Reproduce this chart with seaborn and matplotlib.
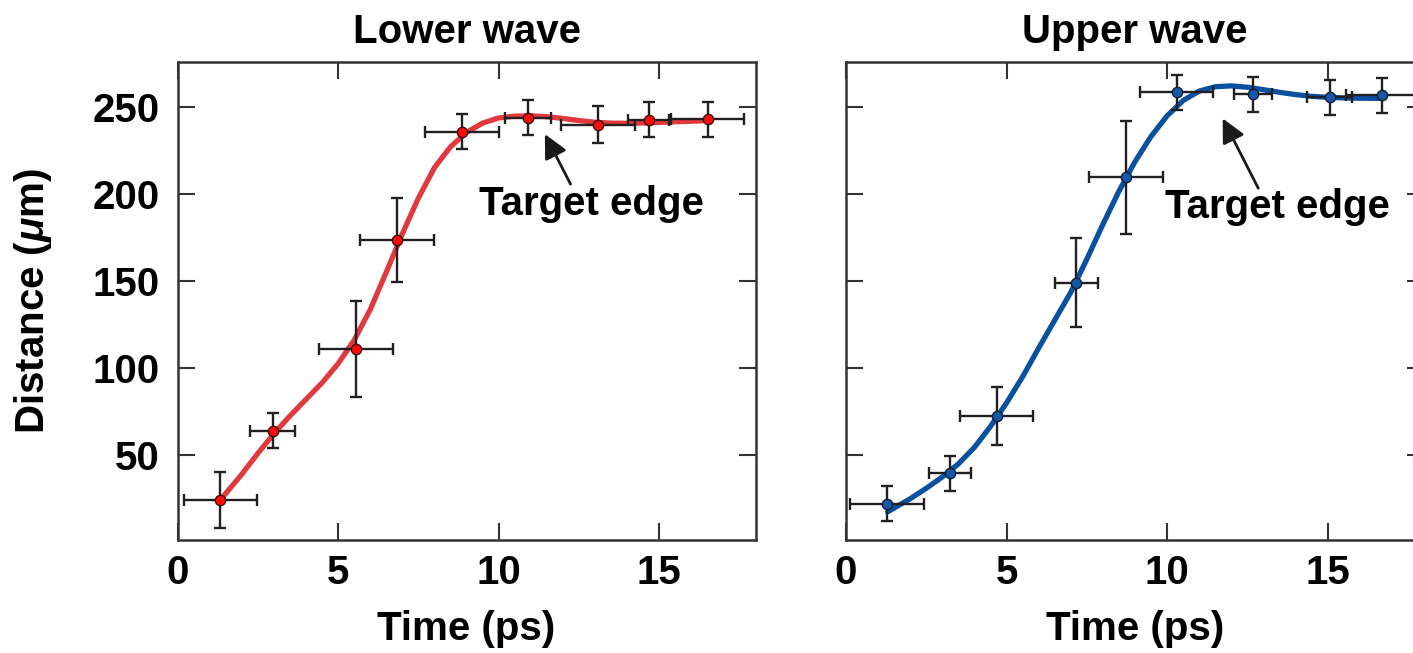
import matplotlib
matplotlib.use("Agg")
import matplotlib.pyplot as plt
import seaborn as sns
import pandas as pd

# ---------------- data ----------------
lower_time = [1.33, 2.96, 5.57, 6.84, 8.86, 10.92, 13.10, 14.67, 16.51]
lower_dist = [24.2, 64.0, 111.0, 173.6, 235.8, 243.7, 239.8, 242.5, 242.7]
lower_time_err = [1.14, 0.69, 1.15, 1.15, 1.15, 0.72, 1.15, 0.64, 1.13]
lower_dist_err = [16.0, 10.0, 27.5, 24.3, 10.3, 10.0, 10.4, 10.0, 10.0]

lower_fit_time = [1.33, 2.0, 2.5, 3.0, 3.5, 4.0, 4.5, 5.0, 5.5, 6.0, 6.5, 7.0, 7.5,
                  8.0, 8.5, 9.0, 9.5, 10.0, 10.5, 11.0, 11.5, 12.0, 12.5, 13.0,
                  13.5, 14.0, 14.5, 15.0, 15.5, 16.0, 16.6]
lower_fit_dist = [24.2, 39.0, 51.0, 62.3, 72.5, 82.0, 91.5, 102.5, 116.0, 133.5,
                  155.0, 177.0, 197.5, 215.0, 227.0, 235.3, 240.6, 243.6, 244.6,
                  244.8, 244.3, 243.3, 242.1, 241.1, 240.6, 240.5, 240.7, 241.0,
                  241.4, 241.7, 242.1]

upper_time = [1.29, 3.24, 4.69, 7.17, 8.71, 10.30, 12.67, 15.06, 16.68]
upper_dist = [22.2, 39.7, 72.6, 149.0, 209.4, 258.4, 257.1, 255.4, 256.7]
upper_time_err = [1.15, 0.65, 1.14, 0.67, 1.15, 1.14, 0.59, 0.70, 1.10]
upper_dist_err = [10.0, 10.0, 16.7, 25.4, 32.5, 10.0, 10.0, 10.0, 10.0]

upper_fit_time = [1.3, 2.0, 2.5, 3.0, 3.5, 4.0, 4.5, 5.0, 5.5, 6.0, 6.5, 7.0, 7.5,
                  8.0, 8.5, 9.0, 9.5, 10.0, 10.5, 11.0, 11.5, 12.0, 12.5, 13.0,
                  13.5, 14.0, 14.5, 15.0, 15.5, 16.0, 16.7]
upper_fit_dist = [17.5, 25.0, 31.0, 37.5, 45.0, 54.5, 66.5, 80.0, 95.0, 111.5,
                  127.5, 143.5, 162.5, 182.5, 201.5, 218.5, 233.0, 244.8, 253.6,
                  259.0, 261.5, 262.0, 261.2, 259.8, 258.3, 257.0, 256.0, 255.4,
                  255.1, 254.9, 254.8]

panel_titles = ["Lower wave", "Upper wave"]
x_ticks = [0, 5, 10, 15]
y_ticks = [50, 100, 150, 200, 250]
annot_text = "Target edge"

# ---------------- style ----------------
sns.set_theme(style="ticks")
plt.rcParams["font.family"] = ["Liberation Sans", "DejaVu Sans"]
plt.rcParams["font.weight"] = "bold"
plt.rcParams["text.color"] = "black"
plt.rcParams["axes.labelcolor"] = "black"
plt.rcParams["xtick.labelcolor"] = "black"
plt.rcParams["ytick.labelcolor"] = "black"
plt.rcParams["mathtext.fontset"] = "custom"
plt.rcParams["mathtext.rm"] = "Liberation Sans:bold"
plt.rcParams["mathtext.it"] = "Liberation Sans:italic:bold"
plt.rcParams["mathtext.bf"] = "Liberation Sans:bold"

FS = 29
SPINE = "#333333"
ERR = "#231f20"

fig = plt.figure(figsize=(14.13, 6.53), dpi=100)
W, H = 1413.0, 653.0
ax_w = 578 / W
ax_h = 478 / H
ax_b = (H - 540) / H
axL = fig.add_axes([177.5 / W, ax_b, ax_w, ax_h])
axR = fig.add_axes([846.0 / W, ax_b, ax_w, ax_h])

panels = [
    (axL, lower_time, lower_dist, lower_time_err, lower_dist_err,
     lower_fit_time, lower_fit_dist, "#e03a3f", "#ff0a0a", "#3a0d0d",
     (12.9, 187.8), (11.44, 234.3), (12.24, 205.6)),
    (axR, upper_time, upper_dist, upper_time_err, upper_dist_err,
     upper_fit_time, upper_fit_dist, "#0a50a0", "#1558a8", "#0e1e36",
     (13.45, 185.9), (11.73, 243.3), (12.84, 203.2)),
]

for i, (ax, t, d, te, de, ft, fd, lc, mc, me, tpos, head, tail) in enumerate(panels):
    fit_df = pd.DataFrame({"Time": ft, "Distance": fd})
    pts_df = pd.DataFrame({"Time": t, "Distance": d})
    sns.lineplot(data=fit_df, x="Time", y="Distance", ax=ax, color=lc,
                 linewidth=3.8, sort=False, zorder=2,
                 solid_joinstyle="round", solid_capstyle="round")
    ax.errorbar(t, d, xerr=te, yerr=de, fmt="none", ecolor=ERR,
                elinewidth=1.7, capsize=4.5, capthick=1.7, zorder=3)
    sns.scatterplot(data=pts_df, x="Time", y="Distance", ax=ax, color=mc,
                    edgecolor=me, linewidth=1.0, s=55, zorder=4)

    ax.set_xlim(0, 18)
    ax.set_ylim(1.3, 275.7)
    ax.set_xticks(x_ticks)
    ax.set_yticks(y_ticks)
    ax.tick_params(direction="in", length=12, width=1.5, color=SPINE,
                   top=True, right=True, labelsize=FS, labelcolor="black")
    ax.tick_params(axis="x", pad=10)
    ax.tick_params(axis="y", pad=13)
    for lab in ax.get_xticklabels() + ax.get_yticklabels():
        lab.set_fontweight("bold")
    for sp in ax.spines.values():
        sp.set_visible(True)
        sp.set_color(SPINE)
        sp.set_linewidth(1.8)

    ax.set_title(panel_titles[i], fontsize=FS, fontweight="bold", pad=14,
                 color="black")
    ax.set_xlabel("Time (ps)", fontsize=FS, fontweight="bold", color="black")
    ax.xaxis.set_label_coords(0.5, -0.146)

    ax.annotate("", xy=head, xytext=tail,
                arrowprops=dict(arrowstyle="-|>", color="#1a1a1a", lw=2.0,
                                mutation_scale=36, shrinkA=0, shrinkB=0),
                zorder=5)
    ax.text(tpos[0], tpos[1], annot_text, fontsize=FS, fontweight="bold",
            ha="center", va="baseline", color="black", zorder=5)

axL.set_ylabel(r"Distance ($\mathit{\mu}$m)", fontsize=FS, fontweight="bold",
               color="black")
axL.yaxis.set_label_coords((54 - 177.5) / 578, 0.5)
axR.set_ylabel("")
axR.tick_params(labelleft=False)

fig.savefig("out.png", dpi=100)
